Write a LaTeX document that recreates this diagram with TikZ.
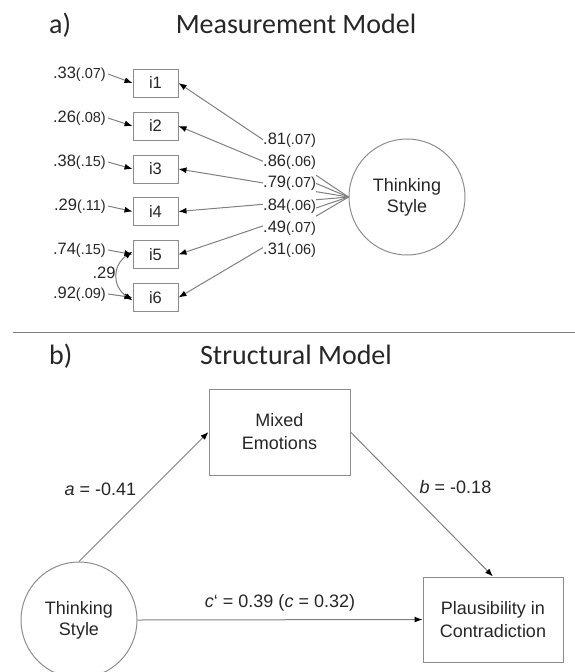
\documentclass[tikz,border=0pt]{standalone}
\usepackage{fontspec}
\setmainfont{Liberation Sans}
\newfontfamily\titlefont{Carlito}
\usetikzlibrary{arrows.meta}
\definecolor{linegray}{HTML}{808080}
\definecolor{boxgray}{HTML}{8C8C8C}
\definecolor{txt}{HTML}{262626}
\tikzset{
  obs/.style={draw=boxgray, line width=1pt, minimum width=45pt, minimum height=28pt, inner sep=0pt, font=\fontsize{16.5}{18}\selectfont, text=txt},
  latent/.style={draw=boxgray, line width=1pt, circle, minimum size=116pt, inner sep=0pt, align=center, font=\fontsize{18}{21}\selectfont, text=txt},
  bigbox/.style={draw=boxgray, line width=1pt, minimum width=141pt, minimum height=86pt, inner sep=0pt, align=center, font=\fontsize{18}{23}\selectfont, text=txt},
  errlab/.style={anchor=east, inner sep=0pt, font=\fontsize{16.5}{18}\selectfont, text=txt},
  loadlab/.style={anchor=west, inner xsep=0pt, inner ysep=0pt, minimum height=22pt, fill=white, font=\fontsize{16.5}{18}\selectfont, text=txt},
  pathlab/.style={inner sep=0pt, font=\fontsize{18}{21}\selectfont, text=txt},
  ttl/.style={inner sep=0pt, font=\titlefont\fontsize{28}{32}\selectfont, text=txt},
  arr/.style={draw=linegray, line width=1pt, -{Latex[length=8pt,width=6pt,color=black]}},
  dblarr/.style={draw=linegray, line width=1pt, {Latex[length=8pt,width=6pt,color=black]}-{Latex[length=8pt,width=6pt,color=black]}},
}
\newcommand{\se}[1]{{\fontsize{14.5}{16}\selectfont(#1)}}
\begin{document}
\begin{tikzpicture}[x=1pt,y=-1pt]
\useasboundingbox (0,0) rectangle (575,672);
% titles
\node[ttl, anchor=base west] (ta) at (49,33) {a)};
\node[ttl, anchor=base] (tm) at (296,33) {Measurement Model};
\node[ttl, anchor=base west] (tb) at (49,364) {b)};
\node[ttl, anchor=base] (ts) at (296,364) {Structural Model};
\draw[linegray, line width=1pt] (13,332) -- (575,332);
% measurement model
\node[obs] (i1) at (155.5,83) {i1};
\node[obs] (i2) at (155.5,126) {i2};
\node[obs] (i3) at (155.5,169) {i3};
\node[obs] (i4) at (155.5,211.5) {i4};
\node[obs] (i5) at (155.5,254.5) {i5};
\node[obs] (i6) at (155.5,297.5) {i6};
\node[latent] (TS1) at (407,197) {Thinking\\Style};
\node[errlab] (e1) at (106,74) {.33\se{.07}};
\node[errlab] (e2) at (106,118) {.26\se{.08}};
\node[errlab] (e3) at (106,162) {.38\se{.15}};
\node[errlab] (e4) at (106,206) {.29\se{.11}};
\node[errlab] (e5) at (106,250) {.74\se{.15}};
\node[errlab] (e6) at (106,294) {.92\se{.09}};
\foreach \k in {1,...,6}{
  \draw[arr] ([xshift=2pt]e\k.east) -- (i\k.west);
  \draw[arr] (TS1.west) -- (i\k.east);
}
\draw[dblarr] ([yshift=3pt]i5.west) to[out=215,in=145,looseness=1.3] ([yshift=-3pt]i6.west);
\node[errlab, anchor=center] (cov) at (104,273) {.29};
\node[loadlab] (l1) at (263,140) {.81\se{.07}};
\node[loadlab] (l2) at (263,162) {.86\se{.06}};
\node[loadlab] (l3) at (263,183.5) {.79\se{.07}};
\node[loadlab] (l4) at (263,206) {.84\se{.06}};
\node[loadlab] (l5) at (263,228) {.49\se{.07}};
\node[loadlab] (l6) at (263,250) {.31\se{.06}};
% structural model
\node[bigbox] (ME) at (279.5,432) {Mixed\\Emotions};
\node[bigbox, minimum width=140pt, minimum height=85pt] (PC) at (493,619.5) {Plausibility in\\Contradiction};
\node[latent] (TS2) at (79,620) {Thinking\\Style};
\draw[arr] (TS2.north) -- (ME.west);
\draw[arr] (ME.east) -- (PC.north);
\draw[arr] (TS2.east) -- (PC.west);
\node[pathlab] (la) at (100.5,489) {\textit{a} = -0.41};
\node[pathlab] (lb) at (455.5,487) {\textit{b} = -0.18};
\node[pathlab] (lc) at (280,603) {\textit{c}‘ = 0.39 (\textit{c} = 0.32)};
\end{tikzpicture}
\end{document}
